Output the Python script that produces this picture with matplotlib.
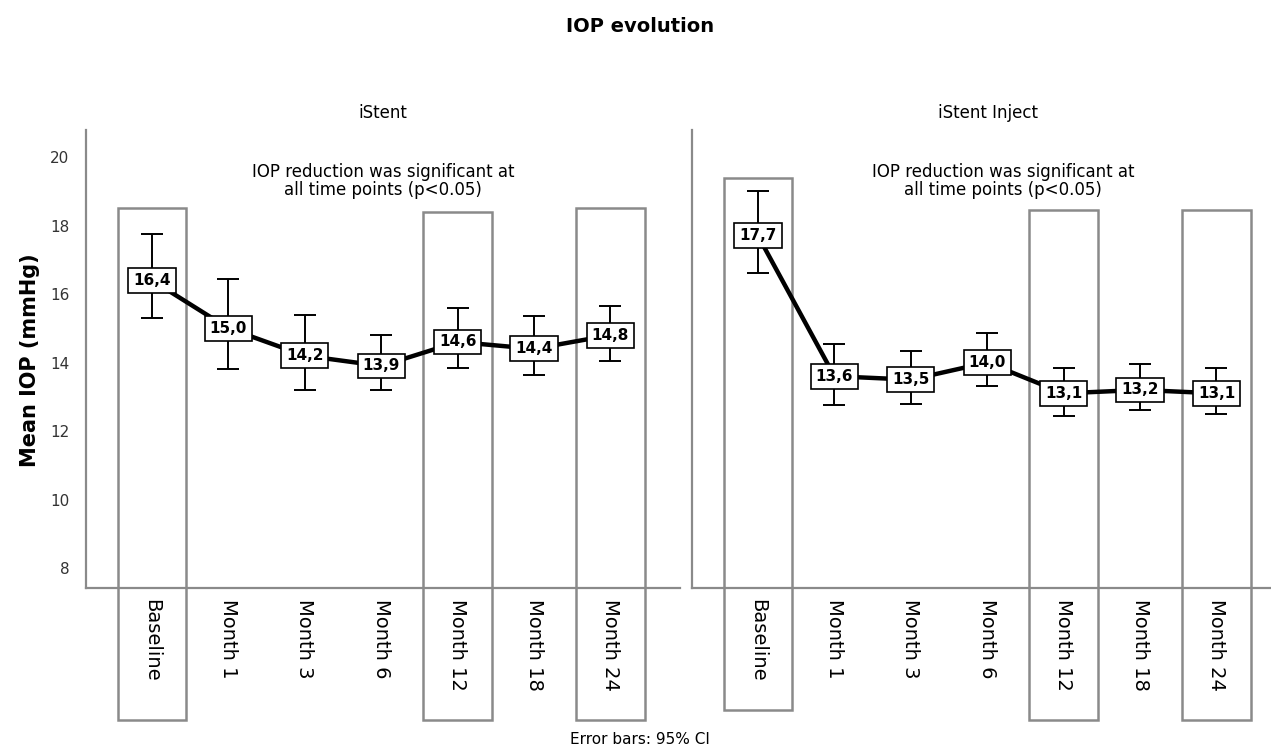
import numpy as np
import matplotlib
matplotlib.use('Agg')
from matplotlib import pyplot as plt
from matplotlib.patches import Rectangle

# time points
categories = ['Baseline', 'Month 1', 'Month 3', 'Month 6', 'Month 12', 'Month 18', 'Month 24']
highlighted = ['Baseline', 'Month 12', 'Month 24']

# iStent: mean IOP and 95% CI
istent_mean = [16.4, 15.0, 14.2, 13.9, 14.6, 14.4, 14.8]
istent_low = [15.3, 13.8, 13.2, 13.2, 13.85, 13.65, 14.05]
istent_high = [17.75, 16.45, 15.4, 14.8, 15.6, 15.35, 15.65]

# iStent Inject: mean IOP and 95% CI
inject_mean = [17.7, 13.6, 13.5, 14.0, 13.1, 13.2, 13.1]
inject_low = [16.6, 12.75, 12.8, 13.3, 12.45, 12.6, 12.5]
inject_high = [19.0, 14.55, 14.35, 14.85, 13.85, 13.95, 13.85]

panels = ['iStent', 'iStent Inject']
note = 'IOP reduction was significant at\nall time points (p<0.05)'

# highlight box extents (top, bottom) in mmHg units, per panel
box_tops = [[18.5, 18.4, 18.5], [19.4, 18.45, 18.45]]
box_bottoms = [[3.55, 3.55, 3.55], [3.85, 3.55, 3.55]]

grey = '#8a8a8a'
fig = plt.figure(figsize=(12.71, 7.51), dpi=100)
W, H = 1271, 751
ax1 = fig.add_axes([86 / W, 1 - 588 / H, 594 / W, 458 / H])
ax2 = fig.add_axes([692 / W, 1 - 588 / H, 594 / W, 458 / H])

series = [(istent_mean, istent_low, istent_high), (inject_mean, inject_low, inject_high)]
x = np.arange(len(categories))

for i, ax in enumerate([ax1, ax2]):
    mean, low, high = [np.array(s) for s in series[i]]
    ax.set_xlim(-0.864, 6.91)
    ax.set_ylim(7.416, 20.79)
    for s in ['top', 'right']:
        ax.spines[s].set_visible(False)
    for s in ['left', 'bottom']:
        ax.spines[s].set_color(grey)
        ax.spines[s].set_linewidth(1.6)
    ax.tick_params(length=0)
    ax.set_xticks(x)
    ax.set_xticklabels(categories, rotation=270, fontsize=14, va='top', ha='center')
    ax.tick_params(axis='x', pad=8)
    ax.set_yticks([8, 10, 12, 14, 16, 18, 20])
    if i == 0:
        ax.tick_params(axis='y', labelsize=11, pad=12, labelcolor='#333333')
    else:
        ax.set_yticklabels([])

    ax.plot(x, mean, color='black', lw=3.2, zorder=3)
    ax.errorbar(x, mean, yerr=[mean - low, high - mean], fmt='none',
                ecolor='black', elinewidth=1.4, capsize=8, capthick=1.4, zorder=2)
    for xi, m in zip(x, mean):
        ax.text(xi, m, ('%.1f' % m).replace('.', ','), ha='center', va='center',
                fontsize=11, fontweight='bold', zorder=5,
                bbox=dict(boxstyle='square,pad=0.32', fc='white', ec='black', lw=1.2))

    # grey frames round the key time points
    for j, cat in enumerate(highlighted):
        xc = categories.index(cat)
        top = box_tops[i][j]
        bot = box_bottoms[i][j]
        ax.add_patch(Rectangle((xc - 0.45, bot), 0.9, top - bot, fill=False,
                               ec=grey, lw=1.8, clip_on=False, zorder=1))

# panel titles and significance notes
fig.text(383 / W, 1 - 113 / H, panels[0], ha='center', va='center', fontsize=12)
fig.text(988 / W, 1 - 113 / H, panels[1], ha='center', va='center', fontsize=12)
fig.text(383 / W, 1 - 181 / H, note, ha='center', va='center', fontsize=12, linespacing=1.05)
fig.text(1003 / W, 1 - 181 / H, note, ha='center', va='center', fontsize=12, linespacing=1.05)

fig.text(640 / W, 1 - 27 / H, 'IOP evolution', ha='center', va='center',
         fontsize=14, fontweight='bold')
fig.text(30 / W, 1 - 360 / H, 'Mean IOP (mmHg)', ha='center', va='center',
         rotation=90, fontsize=15, fontweight='bold')
fig.text(640 / W, 1 - 740 / H, 'Error bars: 95% CI', ha='center', va='center', fontsize=11)

fig.savefig('out.png', dpi=100)
